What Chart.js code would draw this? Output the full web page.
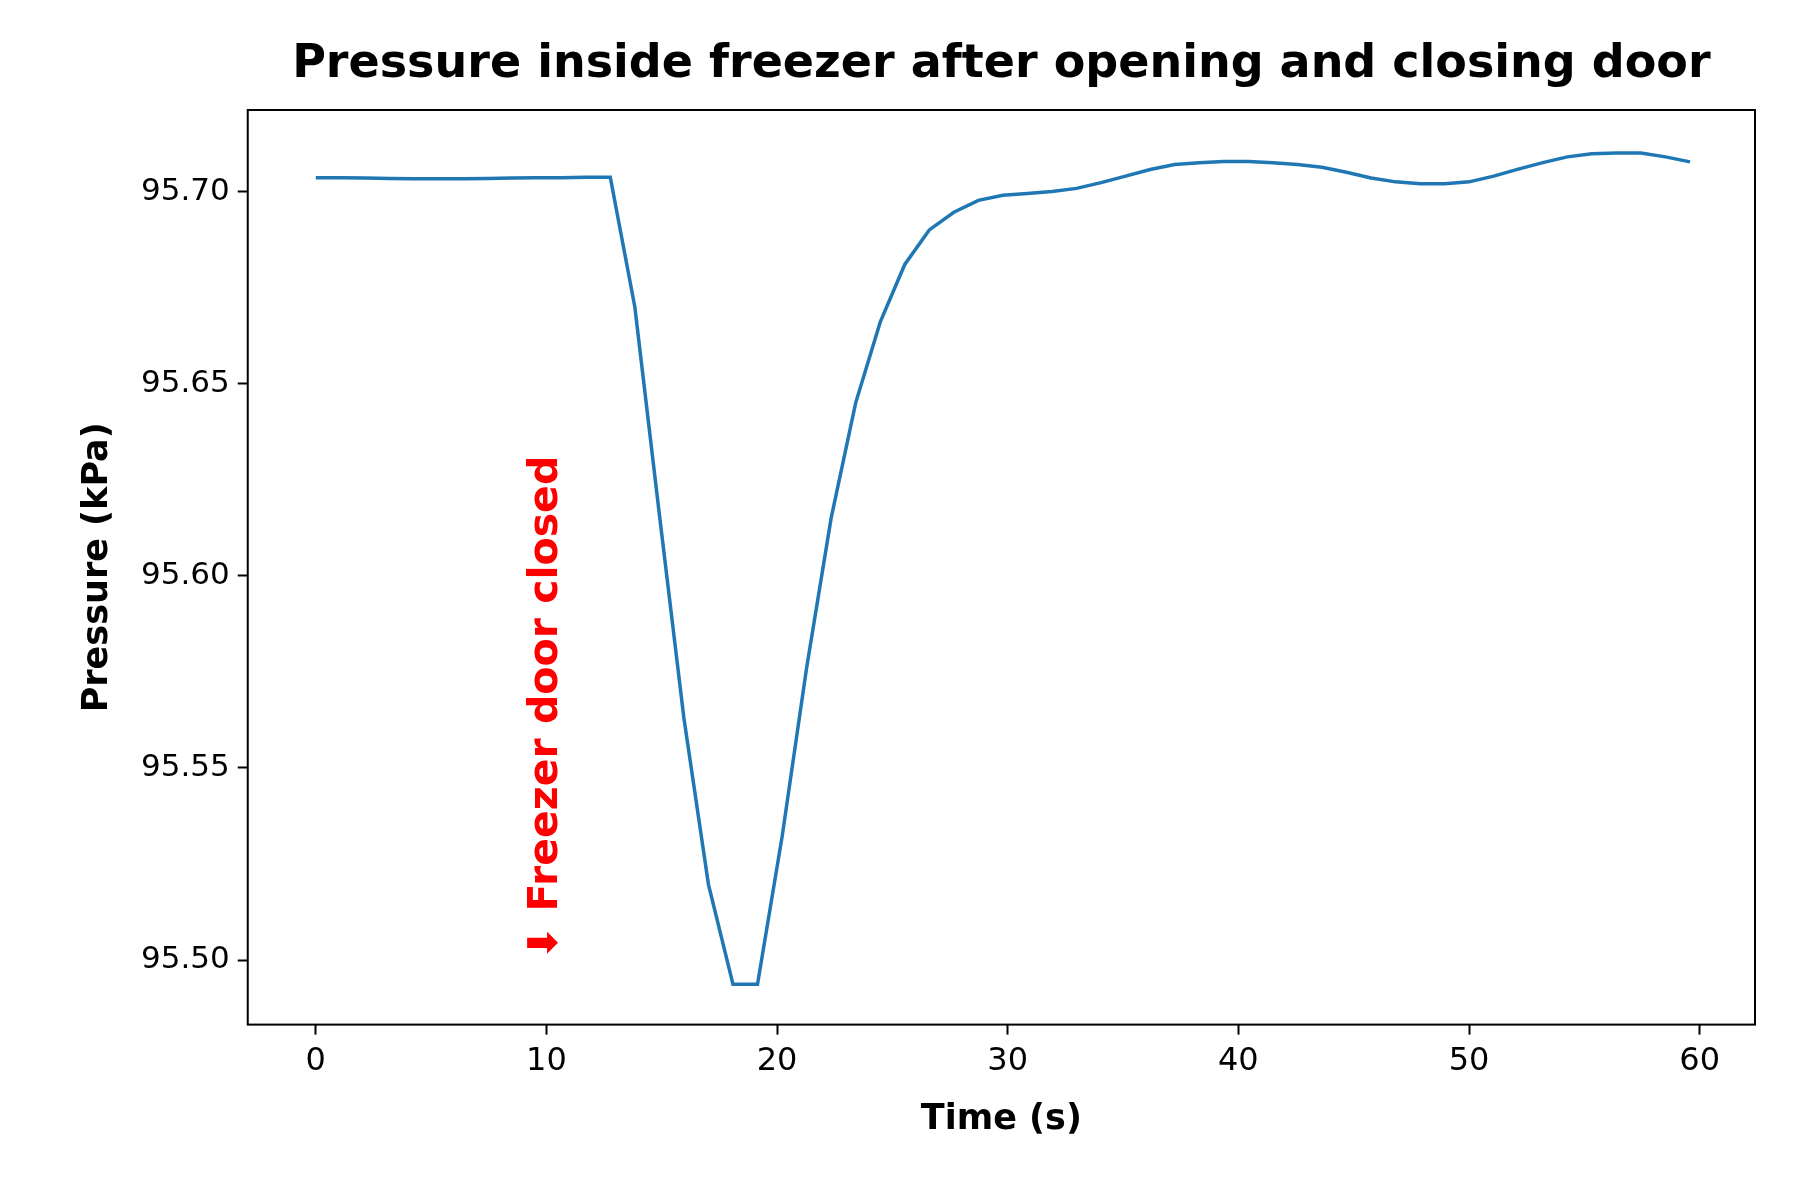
<!DOCTYPE html>
<html>
<head>
<meta charset="utf-8">
<script src="https://cdn.jsdelivr.net/npm/chart.js@4"></script>
<style>
  body{margin:0;background:#fff;}
  #wrap{width:1800px;height:1200px;}
</style>
</head>
<body>
<div id="wrap"><canvas id="pressureChart" width="1800" height="1200"></canvas></div>
<script>
// sample times (s), one every ~1.064 s
var timeStep = 1.064;
var pressure = [95.7036,95.7036,95.7035,95.7034,95.7033,95.7033,95.7033,95.7034,95.7035,95.7036,95.7036,95.7037,95.7037,
  95.670,95.616,95.563,95.5197,95.4937,95.4937,95.532,95.576,95.615,95.645,95.666,95.681,95.690,95.6946,95.6977,95.699,
  95.6995,95.700,95.7008,95.7023,95.704,95.7057,95.707,95.7075,95.7078,95.7078,95.7075,95.707,95.7063,95.705,95.7035,
  95.7025,95.702,95.702,95.7025,95.704,95.7058,95.7075,95.709,95.7098,95.710,95.710,95.709,95.7077];
var yTicks = [95.50,95.55,95.60,95.65,95.70];
var xTicks = [0,10,20,30,40,50,60];
var points = pressure.map((p,i)=>({x:i*timeStep,y:p}));

var font = '"DejaVu Sans", sans-serif';
var titleText = 'Pressure inside freezer after opening and closing door';

// annotation drawn at data coords (x=10, y=95.50), title centred over the plot area
var annotate = {
    id:'annotate',
    afterDatasetsDraw(chart){
        var c = chart.ctx, xs = chart.scales.x, ys = chart.scales.y, a = chart.chartArea;
        c.save();
        c.translate(xs.getPixelForValue(10), ys.getPixelForValue(95.50));
        c.rotate(-Math.PI/2);
        c.fillStyle = 'red';
        c.font = 'bold 41px ' + font;
        c.textAlign = 'left';
        c.textBaseline = 'middle';
        c.fillText('\u2B07 Freezer door closed', 0, 0);
        c.restore();

        c.save();
        c.fillStyle = '#000';
        c.font = 'bold 46px ' + font;
        c.textAlign = 'center';
        c.textBaseline = 'bottom';
        c.fillText(titleText, (a.left+a.right)/2, a.top - 22);
        c.restore();
    }
};
var frame = {
    id:'frame',
    afterDraw(chart){
        var a = chart.chartArea, c = chart.ctx;
        c.save();
        c.strokeStyle = '#000';
        c.lineWidth = 2;
        c.strokeRect(a.left, a.top, a.right-a.left, a.bottom-a.top);
        c.restore();
    }
};

var ctx = document.getElementById('pressureChart').getContext('2d');
new Chart(ctx, {
    type:'line',
    data:{
        datasets:[{
            data:points,
            borderColor:'#1f77b4',
            borderWidth:3.5,
            pointRadius:0,
            tension:0,
            fill:false
        }]
    },
    options:{
        responsive:false,
        animation:false,
        layout:{padding:{left:73,right:45,top:110,bottom:55}},
        plugins:{
            legend:{display:false},
            tooltip:{enabled:false},
            title:{display:false}
        },
        scales:{
            x:{
                type:'linear',min:-2.95,max:62.4,
                afterBuildTicks(s){ s.ticks = xTicks.map(v=>({value:v})); },
                ticks:{font:{family:font,size:32},color:'#000',padding:8},
                grid:{display:true,drawOnChartArea:false,drawTicks:true,tickLength:10,tickColor:'#000',tickWidth:2},
                border:{display:false},
                title:{display:true,text:'Time (s)',font:{family:font,size:35,weight:'bold'},color:'#000',padding:{top:10}}
            },
            y:{
                min:95.4832,max:95.7212,
                afterBuildTicks(s){ s.ticks = yTicks.map(v=>({value:v})); },
                ticks:{font:{family:font,size:31},color:'#000',padding:8,callback:v=>v.toFixed(2)},
                grid:{display:true,drawOnChartArea:false,drawTicks:true,tickLength:10,tickColor:'#000',tickWidth:2},
                border:{display:false},
                title:{display:true,text:'Pressure (kPa)',font:{family:font,size:35,weight:'bold'},color:'#000',padding:{bottom:14}}
            }
        }
    },
    plugins:[annotate,frame]
});
</script>
</body>
</html>
